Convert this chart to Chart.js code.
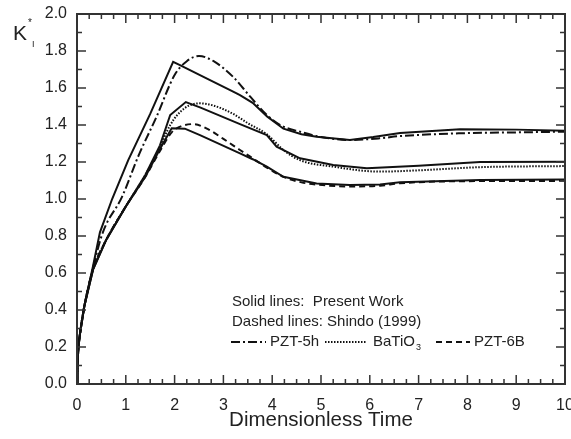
<!DOCTYPE html>
<html>
<head>
<meta charset="utf-8">
<title>Dynamic stress intensity factor</title>
<script src="https://cdn.jsdelivr.net/npm/chart.js@4.4.0/dist/chart.umd.min.js"></script>
<style>
  html, body { margin: 0; padding: 0; background: #fff; }
  #wrap { width: 571px; height: 439px; }
</style>
</head>
<body>
<div id="wrap"><canvas id="kChart"></canvas></div>
<script>
// values (normalized time vs K_I*)
const xTickValues = [0, 1, 2, 3, 4, 5, 6, 7, 8, 9, 10];
const yTickValues = [0, 0.2, 0.4, 0.6, 0.8, 1.0, 1.2, 1.4, 1.6, 1.8, 2.0];

const pzt5hPresentT = [0, 0.01, 0.03, 0.06, 0.15, 0.33, 0.47, 0.72, 1.05, 1.5, 1.97, 2.11, 2.52, 3.2, 3.34, 3.6, 3.9, 4.23, 4.6, 4.91, 5.59, 6.07, 6.62, 7.85, 9, 10];
const pzt5hPresentK = [0, 0.11, 0.2, 0.27, 0.42, 0.64, 0.82, 1.0, 1.21, 1.46, 1.742, 1.724, 1.67, 1.58, 1.562, 1.52, 1.445, 1.38, 1.35, 1.337, 1.319, 1.335, 1.357, 1.377, 1.375, 1.369];

const pzt5hShindoT = [0, 0.01, 0.03, 0.06, 0.15, 0.33, 0.53, 0.92, 1.27, 1.63, 2.0, 2.25, 2.5, 2.8, 3.2, 3.55, 3.89, 4.2, 4.57, 5.0, 5.59, 6.2, 6.62, 7.85, 9, 10];
const pzt5hShindoK = [0, 0.11, 0.2, 0.27, 0.42, 0.63, 0.82, 1.01, 1.24, 1.445, 1.67, 1.745, 1.773, 1.745, 1.66, 1.553, 1.454, 1.395, 1.364, 1.335, 1.319, 1.328, 1.34, 1.355, 1.36, 1.364];

const batio3PresentT = [0, 0.01, 0.03, 0.06, 0.15, 0.33, 0.6, 1.0, 1.4, 1.7, 1.91, 2.23, 2.52, 3.34, 3.89, 4.09, 4.57, 5.25, 5.94, 7, 8.26, 10];
const batio3PresentK = [0, 0.11, 0.2, 0.27, 0.42, 0.62, 0.78, 0.96, 1.13, 1.29, 1.454, 1.524, 1.495, 1.405, 1.346, 1.283, 1.22, 1.184, 1.166, 1.18, 1.2, 1.202];

const batio3ShindoT = [0, 0.01, 0.03, 0.06, 0.15, 0.33, 0.6, 1.0, 1.4, 1.7, 1.91, 2.2, 2.52, 2.8, 3.2, 3.5, 3.89, 4.23, 4.57, 5.25, 6.2, 7, 8.26, 10];
const batio3ShindoK = [0, 0.11, 0.2, 0.27, 0.42, 0.62, 0.78, 0.96, 1.13, 1.28, 1.4, 1.49, 1.517, 1.505, 1.46, 1.41, 1.35, 1.265, 1.21, 1.175, 1.148, 1.155, 1.172, 1.178];

const pzt6bPresentT = [0, 0.01, 0.03, 0.06, 0.15, 0.33, 0.6, 1.0, 1.4, 1.7, 1.94, 2.21, 2.52, 3.34, 3.6, 3.89, 4.23, 4.91, 5.59, 6.21, 6.62, 8.26, 10];
const pzt6bPresentK = [0, 0.11, 0.2, 0.27, 0.42, 0.62, 0.78, 0.96, 1.12, 1.27, 1.382, 1.38, 1.345, 1.247, 1.215, 1.175, 1.12, 1.084, 1.076, 1.078, 1.09, 1.103, 1.106];

const pzt6bShindoT = [0, 0.01, 0.03, 0.06, 0.15, 0.33, 0.6, 1.0, 1.4, 1.7, 1.94, 2.1, 2.38, 2.7, 3.0, 3.34, 3.6, 3.89, 4.23, 4.6, 4.91, 5.59, 6.21, 6.62, 8.26, 10];
const pzt6bShindoK = [0, 0.11, 0.2, 0.27, 0.42, 0.62, 0.78, 0.96, 1.12, 1.26, 1.36, 1.39, 1.405, 1.375, 1.325, 1.265, 1.22, 1.17, 1.12, 1.09, 1.078, 1.068, 1.072, 1.085, 1.097, 1.098];

const FONT = "'Liberation Sans', Arial, Helvetica, sans-serif";
const INK = '#222';
const DASH_5H = [9, 3, 2, 3];
const DASH_BT = [1.5, 1.5];
const DASH_6B = [6, 4];

function pts(t, k) {
    return t.map((v, i) => ({ x: v, y: k[i] }));
}

function series(label, t, k, dash, smooth) {
    return {
        label: label,
        data: pts(t, k),
        borderColor: '#111',
        borderWidth: 2,
        borderDash: dash,
        pointRadius: 0,
        fill: false,
        tension: 0,
        cubicInterpolationMode: smooth ? 'monotone' : 'default'
    };
}

// frame with inward major/minor ticks on all four sides
const framePlugin = {
    id: 'frame',
    afterDatasetsDraw(chart) {
        const { ctx, chartArea: a, scales } = chart;
        const xs = scales.x, ys = scales.y;
        ctx.save();
        ctx.strokeStyle = '#333';
        ctx.lineWidth = 2;
        ctx.setLineDash([]);
        ctx.strokeRect(a.left, a.top, a.right - a.left, a.bottom - a.top);
        ctx.lineWidth = 1.5;
        ctx.beginPath();
        for (let i = 0; i <= 40; i++) {
            const px = xs.getPixelForValue(i * 0.25);
            const len = i % 4 === 0 ? 9 : 5;
            ctx.moveTo(px, a.bottom); ctx.lineTo(px, a.bottom - len);
            ctx.moveTo(px, a.top); ctx.lineTo(px, a.top + len);
        }
        for (let i = 0; i <= 20; i++) {
            const py = ys.getPixelForValue(i * 0.1);
            const len = i % 2 === 0 ? 9 : 5;
            ctx.moveTo(a.left, py); ctx.lineTo(a.left + len, py);
            ctx.moveTo(a.right, py); ctx.lineTo(a.right - len, py);
        }
        ctx.stroke();
        ctx.restore();
    }
};

// K_I* label and the text legend inside the plot
const notesPlugin = {
    id: 'notes',
    afterDraw(chart) {
        const ctx = chart.ctx;
        ctx.save();
        ctx.fillStyle = INK;
        ctx.textBaseline = 'alphabetic';
        ctx.font = '21px ' + FONT;
        ctx.fillText('K', 13, 40);
        ctx.font = '10px ' + FONT;
        ctx.fillText('*', 28, 26);
        ctx.font = '9px ' + FONT;
        ctx.fillText('I', 32, 47);

        ctx.font = '15px ' + FONT;
        ctx.textBaseline = 'middle';
        ctx.fillText('Solid lines:  Present Work', 232, 302);
        ctx.fillText('Dashed lines: Shindo (1999)', 232, 322);

        const y = 342;
        const sample = (x0, x1, dash) => {
            ctx.save();
            ctx.strokeStyle = '#111';
            ctx.lineWidth = 2;
            ctx.setLineDash(dash);
            ctx.beginPath();
            ctx.moveTo(x0, y); ctx.lineTo(x1, y);
            ctx.stroke();
            ctx.restore();
        };
        sample(231, 266, DASH_5H);
        ctx.fillText('PZT-5h', 270, y);
        sample(325, 367, DASH_BT);
        ctx.fillText('BaTiO', 373, y);
        const w = ctx.measureText('BaTiO').width;
        ctx.font = '9px ' + FONT;
        ctx.fillText('3', 373 + w + 1, y + 6);
        ctx.font = '15px ' + FONT;
        sample(436, 470, DASH_6B);
        ctx.fillText('PZT-6B', 474, y);
        ctx.restore();
    }
};

Chart.defaults.font.family = FONT;
Chart.defaults.color = INK;

new Chart(document.getElementById('kChart'), {
    type: 'line',
    data: {
        datasets: [
            series('PZT-5h (present)', pzt5hPresentT, pzt5hPresentK, [], false),
            series('PZT-5h (Shindo)', pzt5hShindoT, pzt5hShindoK, DASH_5H, true),
            series('BaTiO3 (present)', batio3PresentT, batio3PresentK, [], false),
            series('BaTiO3 (Shindo)', batio3ShindoT, batio3ShindoK, DASH_BT, true),
            series('PZT-6B (present)', pzt6bPresentT, pzt6bPresentK, [], false),
            series('PZT-6B (Shindo)', pzt6bShindoT, pzt6bShindoK, DASH_6B, true)
        ]
    },
    options: {
        responsive: true,
        maintainAspectRatio: false,
        animation: false,
        layout: { padding: { top: 14, right: 6, left: 0, bottom: 0 } },
        plugins: {
            legend: { display: false },
            tooltip: { enabled: false }
        },
        scales: {
            x: {
                type: 'linear',
                min: 0,
                max: 10,
                afterBuildTicks: s => { s.ticks = xTickValues.map(v => ({ value: v })); },
                afterFit: s => { s.height = 55; s.paddingLeft = 0; s.paddingRight = 0; },
                grid: { display: false, drawTicks: false },
                border: { display: false },
                ticks: { padding: 12, font: { size: 16 }, color: INK, callback: v => String(v) },
                title: { display: true, text: 'Dimensionless Time', font: { size: 20.5 }, color: INK, padding: { top: 0, bottom: 6 } }
            },
            y: {
                type: 'linear',
                min: 0,
                max: 2,
                afterBuildTicks: s => { s.ticks = yTickValues.map(v => ({ value: v })); },
                afterFit: s => { s.width = 77; s.paddingTop = 0; s.paddingBottom = 0; },
                grid: { display: false, drawTicks: false },
                border: { display: false },
                ticks: { padding: 10, font: { size: 16 }, color: INK, callback: v => Number(v).toFixed(1) }
            }
        }
    },
    plugins: [framePlugin, notesPlugin]
});
</script>
</body>
</html>
